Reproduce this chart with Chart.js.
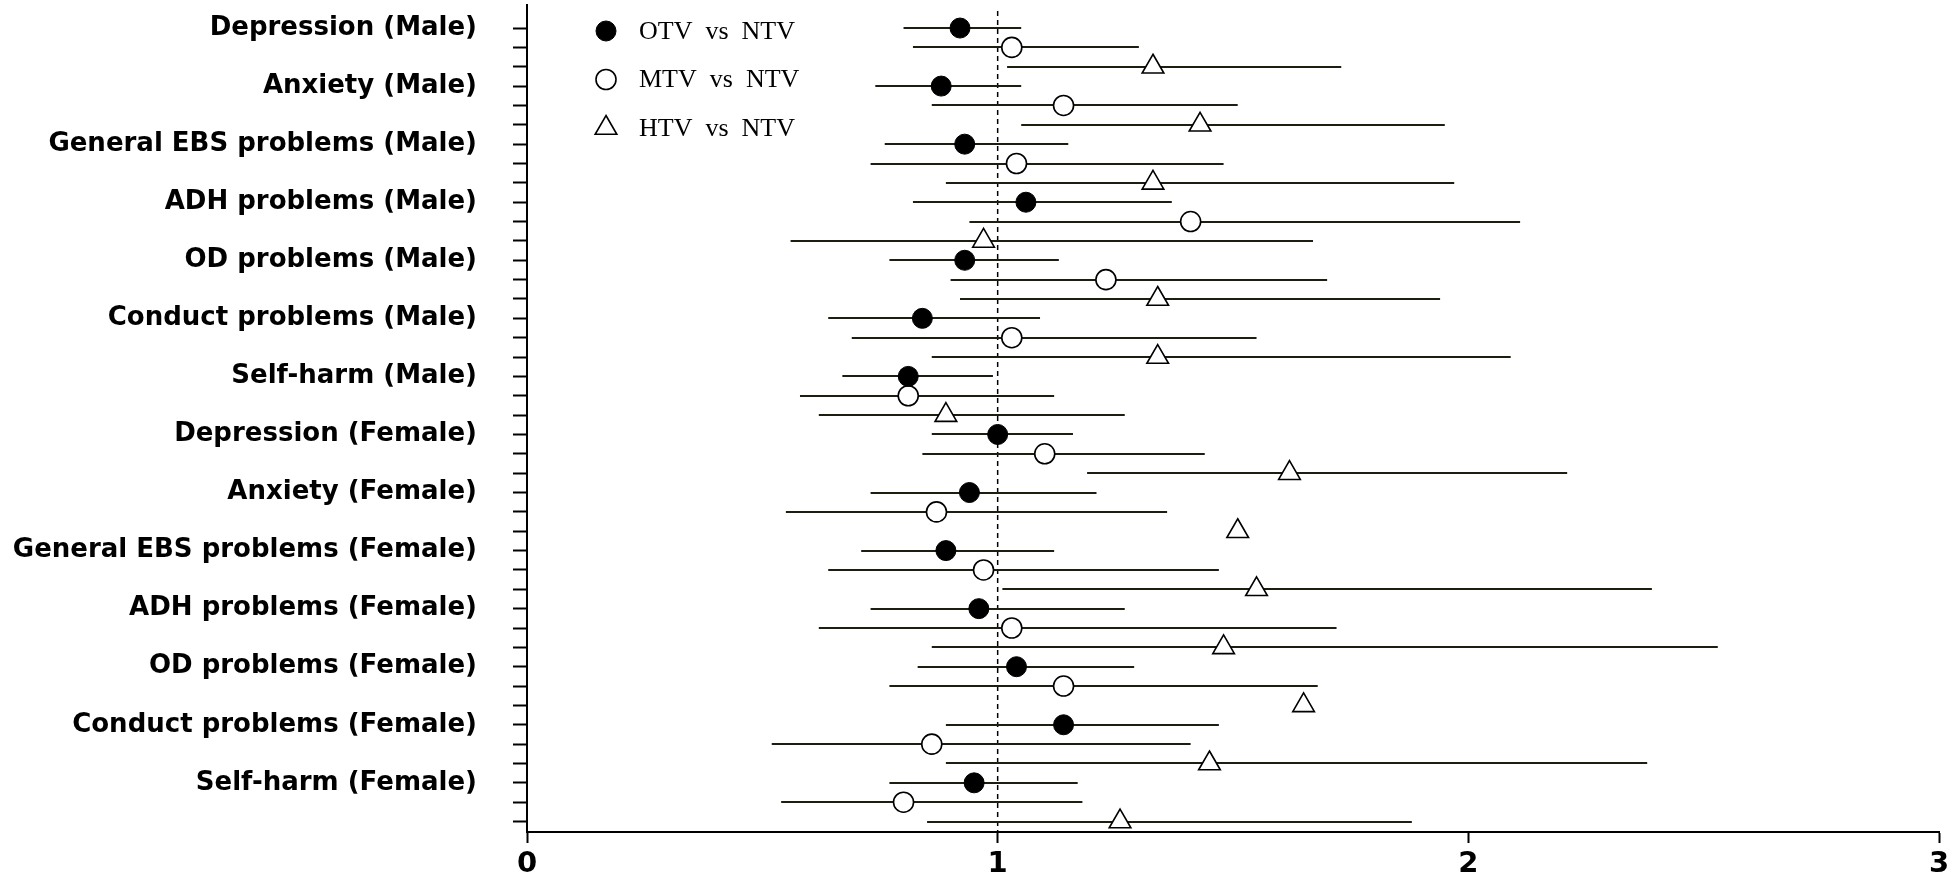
<!DOCTYPE html>
<html>
<head>
<meta charset="utf-8">
<script src="https://cdn.jsdelivr.net/npm/chart.js@4.4.1/dist/chart.umd.min.js"></script>
<style>
  html, body { margin: 0; padding: 0; background: #fff; }
  #wrap { width: 1950px; height: 883px; position: relative; }
</style>
</head>
<body>
<div id="wrap"><canvas id="forest"></canvas></div>
<script>
const categories = [
  'Depression (Male)', 'Anxiety (Male)', 'General EBS problems (Male)', 'ADH problems (Male)',
  'OD problems (Male)', 'Conduct problems (Male)', 'Self-harm (Male)',
  'Depression (Female)', 'Anxiety (Female)', 'General EBS problems (Female)', 'ADH problems (Female)',
  'OD problems (Female)', 'Conduct problems (Female)', 'Self-harm (Female)'
];
const seriesNames = ['OTV  vs  NTV', 'MTV  vs  NTV', 'HTV  vs  NTV'];

// odds ratios and 95% CI, one entry per category
const otvEst  = [0.92, 0.88, 0.93, 1.06, 0.93, 0.84, 0.81, 1.00, 0.94, 0.89, 0.96, 1.04, 1.14, 0.95];
const otvLow  = [0.80, 0.74, 0.76, 0.82, 0.77, 0.64, 0.67, 0.86, 0.73, 0.71, 0.73, 0.83, 0.89, 0.77];
const otvHigh = [1.05, 1.05, 1.15, 1.37, 1.13, 1.09, 0.99, 1.16, 1.21, 1.12, 1.27, 1.29, 1.47, 1.17];

const mtvEst  = [1.03, 1.14, 1.04, 1.41, 1.23, 1.03, 0.81, 1.10, 0.87, 0.97, 1.03, 1.14, 0.86, 0.80];
const mtvLow  = [0.82, 0.86, 0.73, 0.94, 0.90, 0.69, 0.58, 0.84, 0.55, 0.64, 0.62, 0.77, 0.52, 0.54];
const mtvHigh = [1.30, 1.51, 1.48, 2.11, 1.70, 1.55, 1.12, 1.44, 1.36, 1.47, 1.72, 1.68, 1.41, 1.18];

const htvEst  = [1.33, 1.43, 1.33, 0.97, 1.34, 1.34, 0.89, 1.62, 1.51, 1.55, 1.48, 1.65, 1.45, 1.26];
const htvLow  = [1.02, 1.05, 0.89, 0.56, 0.92, 0.86, 0.62, 1.19, null, 1.01, 0.86, null, 0.89, 0.85];
const htvHigh = [1.73, 1.95, 1.97, 1.67, 1.94, 2.09, 1.27, 2.21, null, 2.39, 2.53, null, 2.38, 1.88];

const xTicks = [0, 1, 2, 3];
const refValue = 1;

const rowsPerGroup = 3;
const rowValues = [];
for (let i = 0; i < categories.length * rowsPerGroup; i++) rowValues.push(i);

function toPoints(values, offset) {
  return values.map((v, i) => ({ x: v, y: i * rowsPerGroup + offset }));
}

// horizontal CI lines + dashed reference line, drawn under the markers
const errorBars = {
  id: 'errorBars',
  beforeDatasetsDraw(chart) {
    const { ctx, chartArea, scales: { x, y } } = chart;
    ctx.save();
    const rx = x.getPixelForValue(refValue);
    ctx.setLineDash([5, 4]);
    ctx.lineWidth = 1.5;
    ctx.strokeStyle = '#000';
    ctx.beginPath();
    ctx.moveTo(rx, chartArea.top + 6);
    ctx.lineTo(rx, chartArea.bottom);
    ctx.stroke();
    ctx.setLineDash([]);
    ctx.strokeStyle = '#1e1e10';
    ctx.lineWidth = 2;
    chart.data.datasets.forEach(ds => {
      ds.data.forEach((pt, i) => {
        const lo = ds.lower[i], hi = ds.upper[i];
        if (lo == null || hi == null) return;
        const py = Math.round(y.getPixelForValue(pt.y));
        ctx.beginPath();
        ctx.moveTo(x.getPixelForValue(lo), py);
        ctx.lineTo(x.getPixelForValue(hi), py);
        ctx.stroke();
      });
    });
    ctx.restore();
  }
};

// legend sitting inside the plot, top left
const insetLegend = {
  id: 'insetLegend',
  afterDatasetsDraw(chart, args, opts) {
    const { ctx } = chart;
    ctx.save();
    chart.data.datasets.forEach((ds, i) => {
      const cy = opts.top + i * opts.gap;
      ctx.fillStyle = ds.backgroundColor;
      ctx.strokeStyle = ds.borderColor;
      ctx.lineWidth = ds.borderWidth;
      Chart.helpers.drawPoint(ctx, {
        pointStyle: ds.pointStyle, radius: ds.pointRadius, rotation: 0, borderWidth: ds.borderWidth
      }, opts.markerX, cy);
      ctx.fillStyle = '#000';
      ctx.font = opts.font;
      ctx.textBaseline = 'middle';
      ctx.textAlign = 'left';
      ctx.fillText(ds.label, opts.textX, cy + 1);
    });
    ctx.restore();
  }
};

const axisGrid = (len) => ({
  display: true, drawOnChartArea: false, drawTicks: true,
  tickLength: len, tickColor: '#000', tickWidth: 2
});

new Chart(document.getElementById('forest'), {
  type: 'scatter',
  data: {
    datasets: [
      { label: seriesNames[0], data: toPoints(otvEst, 0), lower: otvLow, upper: otvHigh,
        pointStyle: 'circle', pointRadius: 10, backgroundColor: '#000', borderColor: '#000', borderWidth: 1 },
      { label: seriesNames[1], data: toPoints(mtvEst, 1), lower: mtvLow, upper: mtvHigh,
        pointStyle: 'circle', pointRadius: 10, backgroundColor: '#fff', borderColor: '#000', borderWidth: 1.6 },
      { label: seriesNames[2], data: toPoints(htvEst, 2), lower: htvLow, upper: htvHigh,
        pointStyle: 'triangle', pointRadius: 12.5, backgroundColor: '#fff', borderColor: '#000', borderWidth: 1.6 }
    ]
  },
  options: {
    responsive: true,
    maintainAspectRatio: false,
    animation: false,
    devicePixelRatio: 1,
    layout: { autoPadding: false, padding: { top: 5, right: 11, left: 0, bottom: 0 } },
    plugins: {
      legend: { display: false },
      tooltip: { enabled: false },
      insetLegend: { markerX: 606, textX: 639, top: 31, gap: 48.5, font: '26px "Liberation Serif"' }
    },
    scales: {
      x: {
        type: 'linear', min: 0, max: 3,
        afterBuildTicks: s => { s.ticks = xTicks.map(v => ({ value: v })); },
        afterFit: s => { s.height = 51; s.paddingLeft = 0; s.paddingRight = 0; },
        grid: axisGrid(11),
        border: { display: true, color: '#000', width: 2 },
        ticks: { color: '#000', autoSkip: false, maxRotation: 0, padding: 4,
                 font: { family: '"DejaVu Sans"', size: 29, weight: 'bold' } }
      },
      y: {
        type: 'linear', reverse: true, min: -1.19, max: 41.54,
        afterBuildTicks: s => { s.ticks = rowValues.map(v => ({ value: v })); },
        afterFit: s => { s.width = 527; s.paddingTop = 0; s.paddingBottom = 0; },
        grid: axisGrid(14),
        border: { display: true, color: '#000', width: 2 },
        ticks: { color: '#000', autoSkip: false, padding: 36,
                 font: { family: '"DejaVu Sans"', size: 26, weight: 'bold' },
                 callback: v => (v % rowsPerGroup === 0 ? categories[v / rowsPerGroup] : '') }
      }
    }
  },
  plugins: [errorBars, insetLegend]
});
</script>
</body>
</html>
